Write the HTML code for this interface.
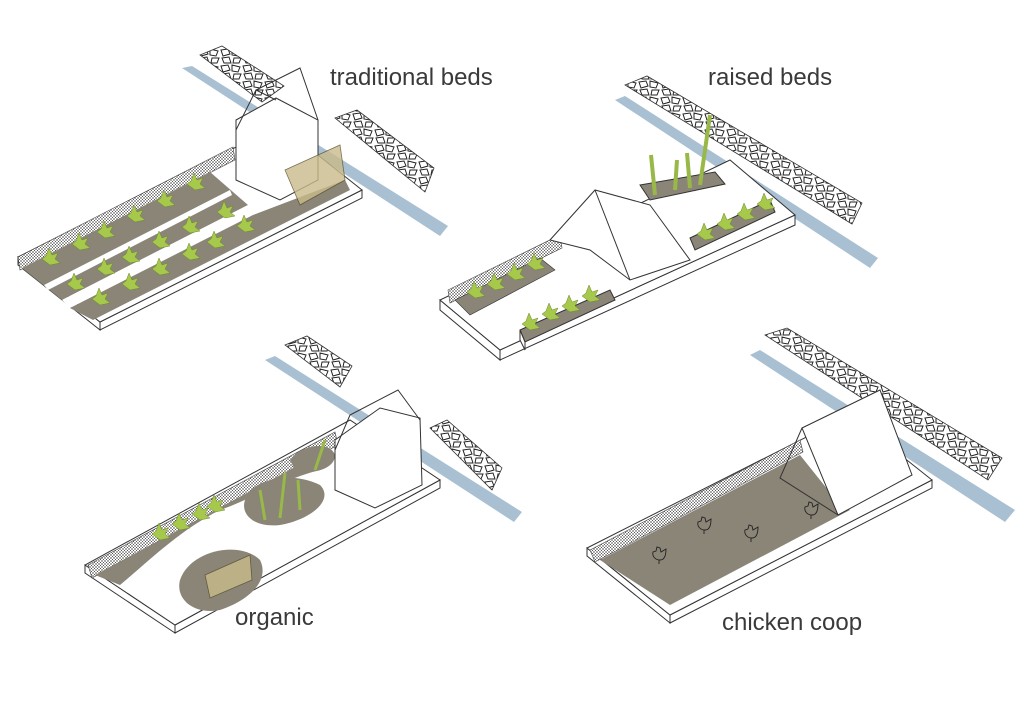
<!DOCTYPE html>
<html><head><meta charset="utf-8"><style>
html,body{margin:0;padding:0;background:#fff;width:1024px;height:724px;overflow:hidden}
svg{display:block}
text{font-family:"Liberation Sans",sans-serif;fill:#3a3a3a;font-size:24px}
</style></head><body>
<svg width="1024" height="724" viewBox="0 0 1024 724">
<defs>
<pattern id="st" width="22" height="16" patternUnits="userSpaceOnUse">
<rect width="22" height="16" fill="#fff"/>
<path d="M1 2 L8 1 L10 6 L3 8 Z M12 1 L20 3 L18 8 L12 7 Z M2 10 L9 9 L11 15 L4 15 Z M14 10 L21 10 L19 15 L13 15 Z" fill="none" stroke="#222" stroke-width="1"/>
</pattern>
<pattern id="mesh" width="3" height="3" patternUnits="userSpaceOnUse">
<rect width="3" height="3" fill="#fff"/><path d="M0 0L3 3M3 0L0 3" stroke="#555" stroke-width="0.5"/>
</pattern>
<g id="plant"><path d="M0 0 l-8 -6 l4 -3 l3 -8 l3 7 l6 -2 l-3 6 l5 4 z" fill="#a6c94b" stroke="#6d8a2a" stroke-width="0.5"/></g>
<g id="hen"><path d="M0 0 c-5 0 -8 -4 -7 -8 l3 -1 l1 -4 l3 1 l1 4 l5 -3 c0 5 -1 11 -6 11 z M-1 0 l0 4" fill="none" stroke="#222" stroke-width="0.9"/></g>
</defs>

<!-- PANEL 1 -->
<polygon points="182,68 192,66 448,226 440,236" fill="#a9c0d2"/>
<polygon points="200,55 222,46 284,86 262,102" fill="url(#st)" stroke="#333" stroke-width="0.8"/>
<polygon points="335,118 357,110 434,168 425,192" fill="url(#st)" stroke="#333" stroke-width="0.8"/>
<polygon points="18,257 100,322 100,330 18,265" fill="#fff" stroke="#333"/>
<polygon points="100,322 362,190 362,198 100,330" fill="#fff" stroke="#333"/>
<polygon points="18,257 100,322 362,190 280,125" fill="#fff" stroke="#333"/>
<polygon points="18,257 233,147 235,160 20,270" fill="url(#mesh)" stroke="#444" stroke-width="0.6"/>
<polygon points="22,268 210,172 248,205 62,300" fill="#8b8578"/>
<polygon points="62,300 248,205 253,215 70,308" fill="#fff"/>
<polygon points="70,308 253,215 345,180 350,190 93,320" fill="#8b8578"/>
<polygon points="44,285 230,190 232,195 48,290" fill="#fff"/>
<polygon points="236,120 276,98 318,120 318,180 280,200 236,180" fill="#fff" stroke="#333"/>
<polyline points="236,130 256,90 300,68 318,120" fill="none" stroke="#333"/>
<line x1="256" y1="90" x2="276" y2="100" stroke="#333"/>
<polygon points="285,170 340,145 345,180 300,205" fill="#c9bb8a" stroke="#5a5030" stroke-width="0.8" opacity="0.8"/>
<g>
<use href="#plant" x="50" y="265"/><use href="#plant" x="80" y="250"/><use href="#plant" x="105" y="238"/><use href="#plant" x="135" y="222"/><use href="#plant" x="165" y="207"/><use href="#plant" x="195" y="190"/>
<use href="#plant" x="75" y="290"/><use href="#plant" x="105" y="275"/><use href="#plant" x="130" y="263"/><use href="#plant" x="160" y="248"/><use href="#plant" x="190" y="233"/><use href="#plant" x="225" y="218"/>
<use href="#plant" x="100" y="305"/><use href="#plant" x="130" y="290"/><use href="#plant" x="160" y="275"/><use href="#plant" x="190" y="260"/><use href="#plant" x="215" y="248"/><use href="#plant" x="245" y="232"/>
</g>
<text x="330" y="85">traditional beds</text>

<!-- PANEL 2 -->
<polygon points="615,100 625,96 878,258 870,268" fill="#a9c0d2"/>
<polygon points="625,85 647,76 862,203 852,224" fill="url(#st)" stroke="#333" stroke-width="0.8"/>
<polygon points="440,300 500,350 500,360 440,310" fill="#fff" stroke="#333"/>
<polygon points="500,350 795,215 795,225 500,360" fill="#fff" stroke="#333"/>
<polygon points="440,300 500,350 795,215 730,160" fill="#fff" stroke="#333"/>
<polygon points="448,290 560,235 562,248 450,303" fill="url(#mesh)" stroke="#444" stroke-width="0.6"/>
<polygon points="455,300 540,258 555,270 470,315" fill="#8b8578" stroke="#333" stroke-width="0.6"/>
<polygon points="520,330 610,290 615,300 525,342" fill="#8b8578" stroke="#333"/>
<polygon points="520,330 525,342 525,350 520,340" fill="#fff" stroke="#333"/>
<polygon points="690,238 770,200 775,212 695,250" fill="#8b8578" stroke="#333"/>
<polygon points="640,185 715,172 725,184 650,200" fill="#8b8578" stroke="#333"/>
<polygon points="550,240 595,190 650,205 690,260 630,280 590,250" fill="#fff" stroke="#333"/>
<line x1="595" y1="190" x2="630" y2="280" stroke="#333"/>
<g>
<use href="#plant" x="475" y="298"/><use href="#plant" x="495" y="290"/><use href="#plant" x="515" y="280"/><use href="#plant" x="535" y="270"/>
<use href="#plant" x="530" y="330"/><use href="#plant" x="550" y="320"/><use href="#plant" x="570" y="312"/><use href="#plant" x="590" y="302"/>
<use href="#plant" x="705" y="240"/><use href="#plant" x="725" y="230"/><use href="#plant" x="745" y="220"/><use href="#plant" x="765" y="210"/>
</g>
<path d="M655 195 l-4 -40 M675 190 l2 -30 M700 185 l10 -70 M690 188 l-3 -35" stroke="#98b848" stroke-width="4" fill="none"/>
<text x="708" y="85">raised beds</text>

<!-- PANEL 3 -->
<polygon points="265,360 275,356 522,512 514,522" fill="#a9c0d2"/>
<polygon points="285,345 307,336 352,366 340,387" fill="url(#st)" stroke="#333" stroke-width="0.8"/>
<polygon points="430,428 447,420 502,468 492,490" fill="url(#st)" stroke="#333" stroke-width="0.8"/>
<polygon points="85,565 175,625 175,633 85,573" fill="#fff" stroke="#333"/>
<polygon points="175,625 440,480 440,488 175,633" fill="#fff" stroke="#333"/>
<polygon points="85,565 175,625 440,480 350,420" fill="#fff" stroke="#333"/>
<polygon points="88,565 335,432 338,445 92,578" fill="url(#mesh)" stroke="#444" stroke-width="0.6"/>
<path d="M95 575 L330 448 L320 470 C280 480 250 500 220 510 C180 530 150 560 120 585 Z" fill="#8b8578"/>
<path d="M245 500 C250 480 290 470 320 485 C335 500 310 520 280 525 C255 528 240 515 245 500 Z" fill="#8b8578"/>
<path d="M180 580 C190 550 240 540 260 560 C270 580 250 600 220 610 C195 615 175 600 180 580 Z" fill="#8b8578"/>
<path d="M290 460 C300 445 330 440 335 455 C335 470 310 475 295 470 Z" fill="#8b8578"/>
<polygon points="335,440 380,408 420,418 422,485 375,508 335,490" fill="#fff" stroke="#333"/>
<polyline points="335,450 350,415 398,390 420,420" fill="none" stroke="#333"/>
<polygon points="205,575 250,555 252,580 210,598" fill="#c9bb8a" stroke="#5a5030" stroke-width="0.8" opacity="0.8"/>
<g><use href="#plant" x="160" y="540"/><use href="#plant" x="180" y="530"/><use href="#plant" x="200" y="520"/><use href="#plant" x="215" y="512"/></g>
<path d="M265 520 l-5 -30 M280 518 l5 -45 M300 510 l-2 -30 M315 470 l10 -30" stroke="#98b848" stroke-width="3" fill="none"/>
<text x="235" y="625">organic</text>

<!-- PANEL 4 -->
<polygon points="750,355 760,350 1015,510 1005,522" fill="#a9c0d2"/>
<polygon points="765,335 787,328 1002,458 988,480" fill="url(#st)" stroke="#333" stroke-width="0.8"/>
<polygon points="587,548 670,615 670,623 587,556" fill="#fff" stroke="#333"/>
<polygon points="670,615 932,480 932,488 670,623" fill="#fff" stroke="#333"/>
<polygon points="587,548 670,615 932,480 850,415" fill="#fff" stroke="#333"/>
<polygon points="590,550 800,440 803,452 595,562" fill="url(#mesh)" stroke="#444" stroke-width="0.6"/>
<polygon points="600,560 800,455 840,505 850,510 670,605" fill="#8b8578"/>
<polygon points="802,428 880,390 912,475 838,515" fill="#fff" stroke="#333"/>
<polyline points="802,428 780,478 838,515" fill="none" stroke="#333"/>
<g><use href="#hen" x="660" y="560"/><use href="#hen" x="705" y="530"/><use href="#hen" x="752" y="538"/><use href="#hen" x="812" y="515"/></g>
<text x="722" y="630">chicken coop</text>
</svg>
</body></html>
